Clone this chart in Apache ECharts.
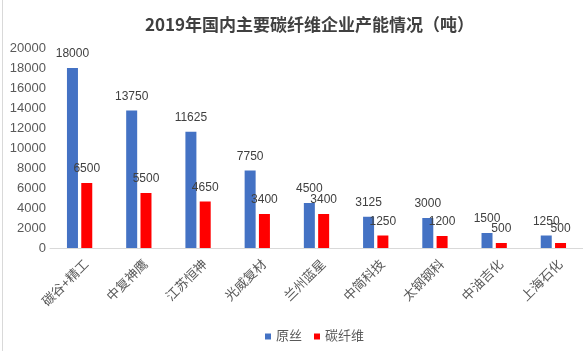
<!DOCTYPE html>
<html>
<head>
<meta charset="utf-8">
<script src="https://cdn.jsdelivr.net/npm/echarts@6/dist/echarts.min.js"></script>
<style>
html, body { margin: 0; padding: 0; background: #fff; }
#chart { width: 583px; height: 351px; }
</style>
</head>
<body>
<div id="chart"></div>
<script>
// 企业名称
var companies = ['碳谷+精工', '中复神鹰', '江苏恒神', '光威复材', '兰州蓝星', '中简科技', '太钢钢科', '中油吉化', '上海石化'];
// 原丝产能（吨）
var precursor = [18000, 13750, 11625, 7750, 4500, 3125, 3000, 1500, 1250];
// 碳纤维产能（吨）
var carbonFiber = [6500, 5500, 4650, 3400, 3400, 1250, 1200, 500, 500];

var font = '"Liberation Sans", "Noto Sans CJK SC", sans-serif';

var chart = echarts.init(document.getElementById('chart'));

var labelStyle = {
    show: true,
    position: 'top',
    distance: 8,
    color: '#404040',
    fontSize: 12,
    fontFamily: font
};

var option = {
    backgroundColor: '#fff',
    animation: false,
    title: {
        text: '2019年国内主要碳纤维企业产能情况（吨）',
        left: 140,
        top: 11,
        textStyle: {
            fontFamily: '"Noto Sans CJK SC", sans-serif',
            fontSize: 17,
            fontWeight: 'bold',
            color: '#404040'
        }
    },
    legend: {
        data: ['原丝', '碳纤维'],
        left: 260,
        top: 325,
        itemWidth: 6,
        itemHeight: 6,
        itemGap: 12,
        icon: 'rect',
        textStyle: { fontSize: 13, color: '#595959', fontFamily: font }
    },
    grid: {
        left: 50,
        right: -7,
        top: 48,
        bottom: 103
    },
    xAxis: {
        type: 'category',
        data: companies,
        axisLine: { lineStyle: { color: '#d9d9d9' } },
        axisTick: { show: false },
        axisLabel: {
            rotate: 45,
            interval: 0,
            margin: 7,
            verticalAlign: 'top',
            padding: [4, 0, 0, 0],
            color: '#595959',
            fontSize: 13,
            fontFamily: font
        }
    },
    yAxis: {
        type: 'value',
        min: 0,
        max: 20000,
        interval: 2000,
        splitLine: { show: false },
        axisLine: { show: false },
        axisTick: { show: false },
        axisLabel: {
            color: '#595959',
            fontSize: 13,
            fontFamily: font,
            margin: 4,
            formatter: function (v) { return String(v); }
        }
    },
    series: [
        {
            name: '原丝',
            type: 'bar',
            data: precursor,
            barWidth: 11,
            barGap: '30%',
            itemStyle: { color: '#4472C4' },
            label: labelStyle
        },
        {
            name: '碳纤维',
            type: 'bar',
            data: carbonFiber,
            barWidth: 11,
            itemStyle: { color: '#FF0000' },
            label: labelStyle
        }
    ],
    graphic: [{
        type: 'rect',
        shape: { x: 2.5, y: -5, width: 600, height: 361 },
        style: { fill: 'none', stroke: '#d9d9d9', lineWidth: 1 },
        silent: true
    }]
};

chart.setOption(option);
</script>
</body>
</html>
